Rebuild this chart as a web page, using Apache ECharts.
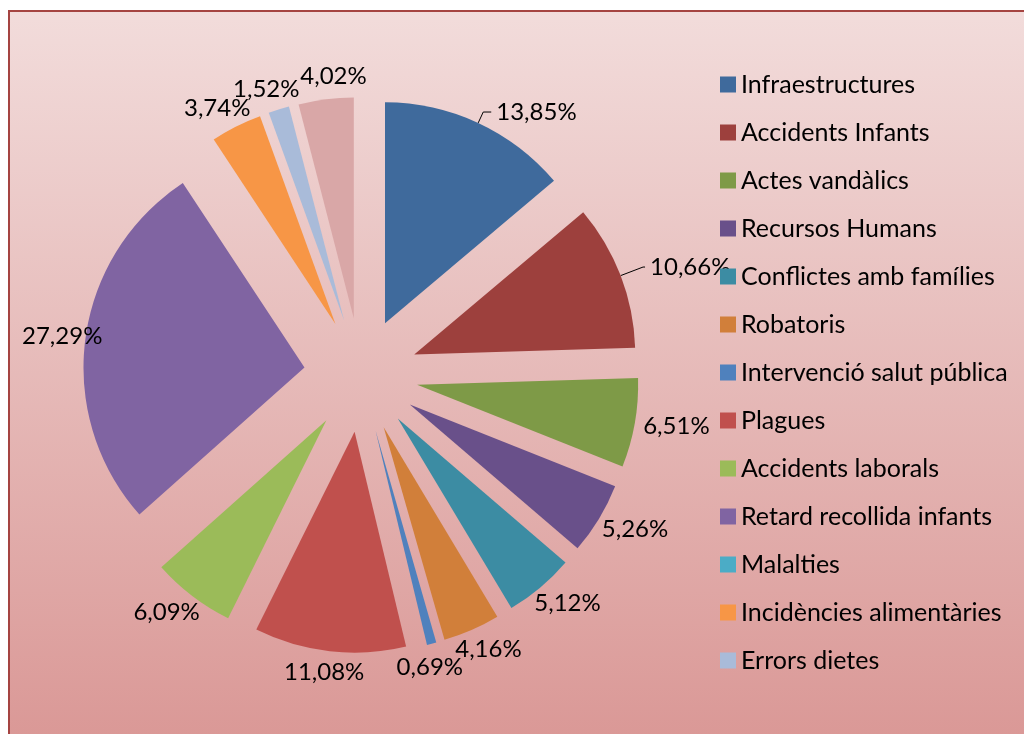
<!DOCTYPE html>
<html>
<head>
<meta charset="utf-8">
<script src="https://cdn.jsdelivr.net/npm/echarts@6/dist/echarts.min.js"></script>
<style>
html,body{margin:0;padding:0;background:#fff;}
#chart{width:1024px;height:734px;}
</style>
</head>
<body>
<div id="chart"></div>
<script>
const categories = [
  'Infraestructures', 'Accidents Infants', 'Actes vandàlics', 'Recursos Humans',
  'Conflictes amb famílies', 'Robatoris', 'Intervenció salut pública', 'Plagues',
  'Accidents laborals', 'Retard recollida infants', 'Malalties',
  'Incidències alimentàries', 'Errors dietes', 'Altres'
];
const values = [13.85, 10.66, 6.51, 5.26, 5.12, 4.16, 0.69, 11.08, 6.09, 27.29, 0, 3.74, 1.52, 4.02];
const colors = [
  '#3F6A9C', '#9D403D', '#7E9A47', '#69508A', '#3C8CA3', '#D17F3A',
  '#4F81BD', '#C0504D', '#9BBB59', '#8064A2', '#4BACC6', '#F79646',
  '#A9BBD9', '#D9A7A7'
];
const legendNames = categories.slice(0, 13);
// slices whose label has a leader line
const lineItems = {0: {length: 12, length2: 8}, 1: {length: 24, length2: 2}};

const CENTER = [361, 375];
const RADIUS = 221;
const OFFSET = 57;
const LABEL_GAP = 9;
const LABEL_FONT = 24;
const LABEL_BOX_H = 24;   // box used for placing
const GLYPH_HALF_H = 9;   // half height used for overlap test
const FRAME_LEFT = 22;

const fmt = v => v.toFixed(2).replace('.', ',') + '%';

const total = values.reduce((a, b) => a + b, 0);
const midAngles = [];
(function () {
  let acc = 0;
  values.forEach(v => { midAngles.push((acc + v / 2) / total * 2 * Math.PI); acc += v; });
})();

// Excel-like outside label placement, computed from the slice angles
const measureCtx = document.createElement('canvas').getContext('2d');
measureCtx.font = LABEL_FONT + 'px Lato';
function overlaps(p, q) {
  const ox = Math.min(p.x + p.w / 2, q.x + q.w / 2) - Math.max(p.x - p.w / 2, q.x - q.w / 2);
  const oy = Math.min(p.y, q.y) + GLYPH_HALF_H - (Math.max(p.y, q.y) - GLYPH_HALF_H);
  return ox > 0 && oy > 0;
}
const labelPos = [];
(function () {
  let prev = null;
  values.forEach((v, i) => {
    if (v <= 0 || lineItems[i]) { labelPos.push(null); return; }
    const a = midAngles[i];
    const sx = Math.sin(a), sy = -Math.cos(a);
    const w = measureCtx.measureText(fmt(v)).width;
    const rr = RADIUS + OFFSET + LABEL_GAP;
    const p = {
      x: CENTER[0] + rr * sx + sx * w / 2,
      y: CENTER[1] + rr * sy + sy * LABEL_BOX_H / 2,
      w: w
    };
    if (p.x - w / 2 < FRAME_LEFT) p.x = FRAME_LEFT + w / 2;
    // slide clockwise along the tangent until clear of the previous label
    let guard = 0;
    while (prev && overlaps(p, prev) && guard++ < 120) {
      p.x += Math.cos(a);
      p.y += Math.sin(a);
    }
    labelPos.push(p);
    prev = p;
  });
})();

const chart = echarts.init(document.getElementById('chart'), null, {renderer: 'canvas'});

// exploded slices (labels with leader lines only)
const sliceData = categories.map((name, i) => ({
  name: name,
  value: values[i],
  selected: true,
  itemStyle: {color: colors[i]},
  label: {show: !!lineItems[i]},
  labelLine: lineItems[i]
    ? {show: true, length: lineItems[i].length, length2: lineItems[i].length2}
    : {show: false}
}));
// transparent copy that carries the other labels
const labelData = categories.map((name, i) => ({
  name: name,
  value: values[i],
  label: {show: !!labelPos[i]}
}));

const labelStyle = {
  fontFamily: 'Lato',
  fontSize: LABEL_FONT,
  color: '#000',
  formatter: p => fmt(p.value)
};

chart.setOption({
  backgroundColor: '#ffffff',
  animation: false,
  graphic: [{
    type: 'rect',
    left: 8, top: 10,
    shape: {width: 1030, height: 760},
    style: {
      fill: new echarts.graphic.LinearGradient(0, 0, 0, 1, [
        {offset: 0, color: '#F2DCDB'},
        {offset: 1, color: '#D99593'}
      ]),
      stroke: '#A54441',
      lineWidth: 2
    },
    z: -10
  }],
  legend: {
    orient: 'vertical',
    left: 715,
    top: 67,
    itemWidth: 16,
    itemHeight: 16,
    itemGap: 23,
    icon: 'rect',
    data: legendNames.map((n, i) => ({name: n, itemStyle: {color: colors[i]}})),
    selectedMode: false,
    textStyle: {fontFamily: 'Lato', fontSize: 25, color: '#000', lineHeight: 24}
  },
  series: [{
    type: 'pie',
    center: CENTER,
    radius: RADIUS,
    startAngle: 90,
    clockwise: true,
    selectedMode: 'multiple',
    selectedOffset: OFFSET,
    avoidLabelOverlap: false,
    stillShowZeroSum: true,
    select: {itemStyle: {borderWidth: 0}},
    emphasis: {disabled: true},
    label: Object.assign({position: 'outside'}, labelStyle),
    labelLine: {lineStyle: {color: '#000', width: 1}},
    data: sliceData
  }, {
    type: 'pie',
    center: CENTER,
    radius: RADIUS,
    startAngle: 90,
    clockwise: true,
    silent: true,
    avoidLabelOverlap: false,
    itemStyle: {color: 'rgba(0,0,0,0)'},
    emphasis: {disabled: true},
    label: Object.assign({position: 'outside'}, labelStyle),
    labelLine: {show: false},
    labelLayout: function (params) {
      const p = labelPos[params.dataIndex];
      if (!p) return {};
      return {x: p.x, y: p.y, align: 'center', verticalAlign: 'middle'};
    },
    data: labelData
  }]
});
</script>
</body>
</html>
